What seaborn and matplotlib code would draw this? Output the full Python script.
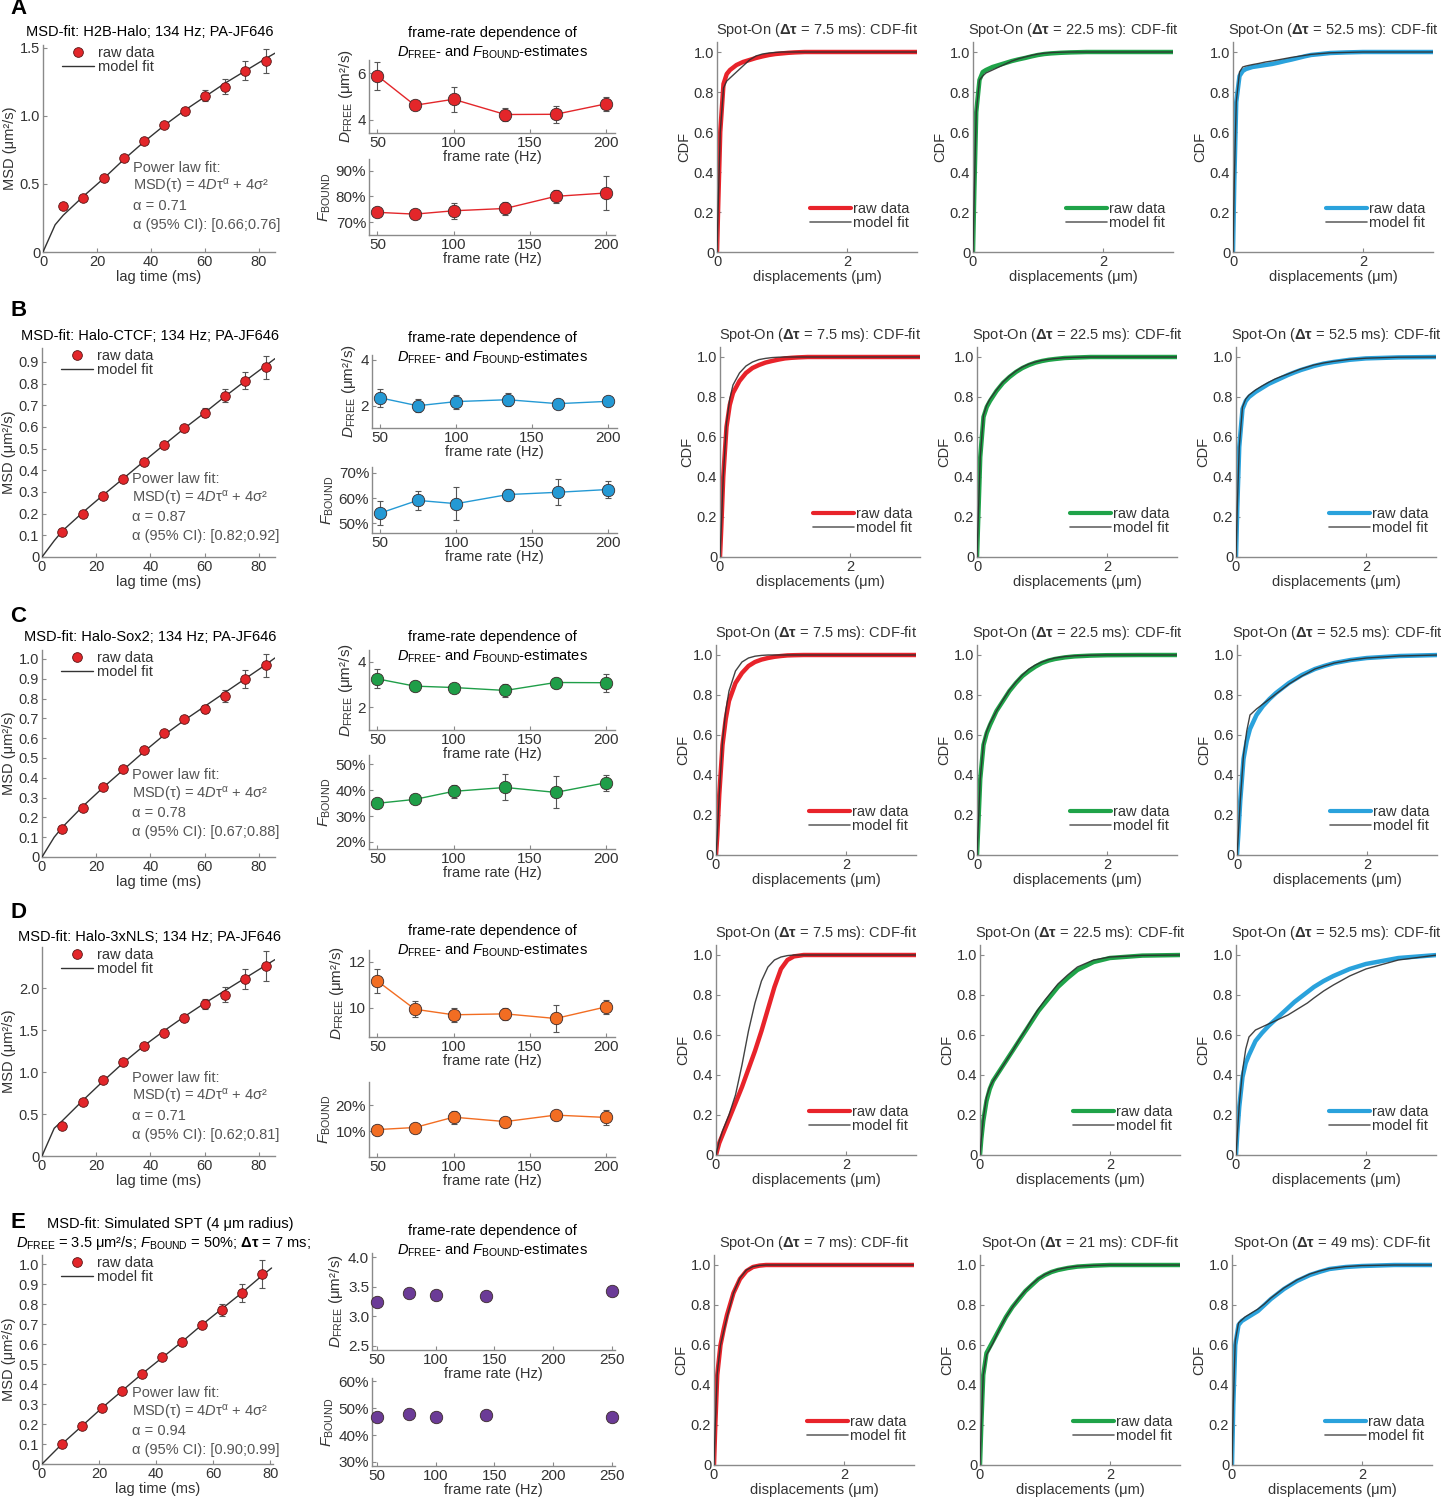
import numpy as np
import matplotlib
matplotlib.use('Agg')
import matplotlib.pyplot as plt
from matplotlib.lines import Line2D
import seaborn as sns

sns.set_style('ticks')
plt.rcParams['font.family'] = ['Liberation Sans', 'DejaVu Sans']
plt.rcParams['mathtext.fontset'] = 'custom'
plt.rcParams['mathtext.rm'] = 'Liberation Sans'
plt.rcParams['mathtext.it'] = 'Liberation Sans:italic'
plt.rcParams['mathtext.bf'] = 'Liberation Sans:bold'

# ---------------- MSD data ----------------
lag_abcd = [7.5, 15, 22.5, 30, 37.5, 45, 52.5, 60, 67.5, 75, 82.5]
lag_e = [7, 14, 21, 28, 35, 42, 49, 56, 63, 70, 77]

msd_A = [0.339, 0.397, 0.542, 0.687, 0.818, 0.929, 1.036, 1.147, 1.215, 1.331, 1.403]
msd_B = [0.115, 0.200, 0.283, 0.360, 0.438, 0.515, 0.595, 0.665, 0.743, 0.814, 0.875]
msd_C = [0.143, 0.246, 0.351, 0.443, 0.538, 0.626, 0.695, 0.747, 0.815, 0.899, 0.968]
msd_D = [0.358, 0.648, 0.903, 1.121, 1.308, 1.471, 1.642, 1.809, 1.920, 2.107, 2.266]
msd_E = [0.100, 0.190, 0.280, 0.365, 0.450, 0.535, 0.610, 0.695, 0.770, 0.855, 0.950]

msd_err_A = [0.01, 0.01, 0.01, 0.01, 0.01, 0.012, 0.02, 0.04, 0.055, 0.07, 0.087]
msd_err_B = [0.005, 0.005, 0.005, 0.005, 0.005, 0.006, 0.01, 0.02, 0.03, 0.04, 0.053]
msd_err_C = [0.005, 0.005, 0.005, 0.005, 0.005, 0.006, 0.01, 0.02, 0.03, 0.045, 0.058]
msd_err_D = [0.01, 0.01, 0.01, 0.01, 0.01, 0.015, 0.03, 0.06, 0.09, 0.12, 0.18]
msd_err_E = [0.005, 0.005, 0.005, 0.005, 0.005, 0.006, 0.01, 0.015, 0.03, 0.045, 0.07]

fit_tau_abcd = [0, 4.5, 7.5, 15, 22.5, 30, 37.5, 45, 52.5, 60, 67.5, 75, 82.5, 86]
fit_tau_e = [0, 7, 14, 21, 28, 35, 42, 49, 56, 63, 70, 77, 80.5]
fit_A = [0, 0.20, 0.27, 0.41, 0.54, 0.68, 0.81, 0.93, 1.04, 1.14, 1.24, 1.33, 1.42, 1.46]
fit_B = [0, 0.075, 0.12, 0.205, 0.285, 0.362, 0.44, 0.517, 0.593, 0.665, 0.74, 0.812, 0.882, 0.915]
fit_C = [0, 0.10, 0.15, 0.255, 0.35, 0.44, 0.53, 0.615, 0.69, 0.76, 0.83, 0.90, 0.97, 1.005]
fit_D = [0, 0.33, 0.42, 0.66, 0.89, 1.11, 1.31, 1.49, 1.66, 1.82, 1.97, 2.12, 2.27, 2.34]
fit_E = [0, 0.10, 0.19, 0.28, 0.365, 0.45, 0.53, 0.61, 0.695, 0.775, 0.855, 0.94, 0.98]

msd_titles = ['MSD-fit: H2B-Halo; 134 Hz; PA-JF646',
              'MSD-fit: Halo-CTCF; 134 Hz; PA-JF646',
              'MSD-fit: Halo-Sox2; 134 Hz; PA-JF646',
              'MSD-fit: Halo-3xNLS; 134 Hz; PA-JF646',
              'MSD-fit: Simulated SPT (4 \u03bcm radius)']
alpha_vals = ['0.71', '0.87', '0.78', '0.71', '0.94']
alpha_ci = ['[0.66;0.76]', '[0.82;0.92]', '[0.67;0.88]', '[0.62;0.81]', '[0.90;0.99]']

# ---------------- frame-rate dependence ----------------
fr_abcd = [50, 74.6, 100, 134, 167, 200]
fr_e = [50, 76.9, 100, 142.9, 250]

dfree_A = [5.90, 4.62, 4.88, 4.22, 4.23, 4.68]
dfree_B = [2.35, 2.01, 2.19, 2.27, 2.10, 2.20]
dfree_C = [3.24, 2.92, 2.86, 2.73, 3.08, 3.07]
dfree_D = [11.16, 9.94, 9.70, 9.74, 9.54, 10.04]
dfree_E = [3.25, 3.39, 3.36, 3.35, 3.42]
dfree_err_A = [0.6, 0.05, 0.55, 0.28, 0.36, 0.3]
dfree_err_B = [0.4, 0.27, 0.3, 0.27, 0.16, 0.05]
dfree_err_C = [0.42, 0.23, 0.05, 0.29, 0.22, 0.39]
dfree_err_D = [0.5, 0.34, 0.3, 0.27, 0.6, 0.3]

fbound_A = [73.8, 73.1, 74.4, 75.3, 80.0, 81.3]
fbound_B = [54.1, 59.1, 57.8, 61.4, 62.3, 63.4]
fbound_C = [34.9, 36.4, 39.5, 41.0, 39.1, 42.8]
fbound_D = [10.6, 11.4, 15.4, 13.7, 16.2, 15.3]
fbound_E = [46.9, 47.8, 46.9, 47.4, 46.9]
fbound_err_A = [1.5, 1.3, 3.0, 2.6, 2.5, 6.5]
fbound_err_B = [4.6, 3.8, 6.4, 2.3, 5.1, 3.3]
fbound_err_C = [1.8, 1.0, 2.5, 5.0, 6.2, 3.0]
fbound_err_D = [0.5, 0.5, 2.5, 0.8, 0.8, 3.0]

# ---------------- CDF curves (displacement grid + read-off values) ----------------
cdf_x = [0, 0.02, 0.05, 0.1, 0.15, 0.2, 0.3, 0.4, 0.5, 0.6, 0.7, 0.8, 0.9, 1.0,
         1.1, 1.2, 1.35, 1.5, 1.75, 2.0, 2.5, 3.1]

cdf_raw_A = [[0, 0.25, 0.6, 0.84, 0.89, 0.91, 0.935, 0.95, 0.96, 0.97, 0.978, 0.985, 0.99, 0.993, 0.996, 0.998, 1, 1, 1, 1, 1, 1],
             [0, 0.3, 0.7, 0.86, 0.9, 0.91, 0.925, 0.935, 0.945, 0.955, 0.963, 0.97, 0.978, 0.985, 0.99, 0.993, 0.996, 0.998, 1, 1, 1, 1],
             [0, 0.35, 0.75, 0.88, 0.905, 0.915, 0.925, 0.93, 0.935, 0.94, 0.947, 0.955, 0.962, 0.97, 0.978, 0.985, 0.99, 0.995, 0.998, 1, 1, 1]]
cdf_fit_A = [[0, 0.25, 0.6, 0.82, 0.855, 0.87, 0.9, 0.93, 0.96, 0.98, 0.99, 0.995, 0.998, 1, 1, 1, 1, 1, 1, 1, 1, 1],
             [0, 0.3, 0.7, 0.86, 0.88, 0.895, 0.91, 0.925, 0.94, 0.955, 0.966, 0.975, 0.983, 0.99, 0.994, 0.997, 0.999, 1, 1, 1, 1, 1],
             [0, 0.35, 0.75, 0.9, 0.925, 0.93, 0.937, 0.943, 0.95, 0.955, 0.961, 0.967, 0.973, 0.978, 0.983, 0.988, 0.992, 0.996, 0.998, 1, 1, 1]]
cdf_raw_B = [[0, 0.15, 0.4, 0.65, 0.76, 0.82, 0.88, 0.92, 0.945, 0.96, 0.972, 0.98, 0.987, 0.993, 0.996, 0.998, 1, 1, 1, 1, 1, 1],
             [0, 0.2, 0.5, 0.7, 0.75, 0.78, 0.83, 0.87, 0.9, 0.925, 0.945, 0.96, 0.972, 0.98, 0.986, 0.99, 0.995, 0.997, 1, 1, 1, 1],
             [0, 0.25, 0.55, 0.74, 0.78, 0.8, 0.825, 0.845, 0.865, 0.88, 0.895, 0.91, 0.923, 0.935, 0.945, 0.955, 0.967, 0.975, 0.986, 0.993, 0.998, 1]]
cdf_fit_B = [[0, 0.15, 0.4, 0.67, 0.79, 0.86, 0.92, 0.955, 0.975, 0.987, 0.993, 0.997, 0.999, 1, 1, 1, 1, 1, 1, 1, 1, 1],
             [0, 0.2, 0.5, 0.71, 0.76, 0.79, 0.835, 0.875, 0.905, 0.93, 0.95, 0.965, 0.975, 0.983, 0.988, 0.992, 0.996, 0.998, 1, 1, 1, 1],
             [0, 0.25, 0.55, 0.75, 0.79, 0.81, 0.835, 0.855, 0.873, 0.89, 0.903, 0.915, 0.928, 0.94, 0.95, 0.96, 0.97, 0.978, 0.988, 0.994, 0.999, 1]]
cdf_raw_C = [[0, 0.1, 0.3, 0.55, 0.68, 0.77, 0.86, 0.91, 0.945, 0.965, 0.977, 0.985, 0.991, 0.995, 0.998, 0.999, 1, 1, 1, 1, 1, 1],
             [0, 0.15, 0.38, 0.55, 0.61, 0.65, 0.72, 0.77, 0.82, 0.86, 0.895, 0.92, 0.942, 0.96, 0.972, 0.98, 0.988, 0.993, 0.997, 0.999, 1, 1],
             [0, 0.1, 0.27, 0.48, 0.57, 0.63, 0.7, 0.745, 0.78, 0.81, 0.835, 0.86, 0.88, 0.9, 0.915, 0.93, 0.946, 0.96, 0.975, 0.985, 0.995, 1]]
cdf_fit_C = [[0, 0.1, 0.3, 0.57, 0.72, 0.82, 0.92, 0.965, 0.985, 0.994, 0.998, 1, 1, 1, 1, 1, 1, 1, 1, 1, 1, 1],
             [0, 0.15, 0.38, 0.56, 0.62, 0.66, 0.72, 0.775, 0.825, 0.865, 0.9, 0.93, 0.95, 0.965, 0.976, 0.985, 0.992, 0.996, 0.999, 1, 1, 1],
             [0, 0.1, 0.27, 0.5, 0.62, 0.7, 0.73, 0.755, 0.78, 0.805, 0.83, 0.855, 0.875, 0.895, 0.912, 0.93, 0.946, 0.96, 0.975, 0.985, 0.995, 1]]
cdf_raw_D = [[0, 0.025, 0.06, 0.1, 0.14, 0.18, 0.26, 0.34, 0.43, 0.52, 0.62, 0.73, 0.84, 0.93, 0.975, 0.993, 1, 1, 1, 1, 1, 1],
             [0, 0.08, 0.17, 0.27, 0.33, 0.37, 0.42, 0.47, 0.52, 0.57, 0.62, 0.67, 0.72, 0.76, 0.8, 0.84, 0.885, 0.925, 0.965, 0.985, 0.997, 1],
             [0, 0.11, 0.24, 0.39, 0.46, 0.5, 0.57, 0.61, 0.645, 0.675, 0.705, 0.735, 0.765, 0.79, 0.815, 0.84, 0.87, 0.895, 0.93, 0.955, 0.985, 1]]
cdf_fit_D = [[0, 0.03, 0.07, 0.12, 0.16, 0.2, 0.3, 0.45, 0.62, 0.76, 0.87, 0.94, 0.975, 0.99, 0.997, 1, 1, 1, 1, 1, 1, 1],
             [0, 0.08, 0.18, 0.29, 0.34, 0.37, 0.42, 0.47, 0.52, 0.575, 0.625, 0.68, 0.73, 0.775, 0.815, 0.855, 0.9, 0.94, 0.975, 0.99, 0.998, 1],
             [0, 0.1, 0.25, 0.42, 0.53, 0.59, 0.625, 0.64, 0.655, 0.67, 0.685, 0.7, 0.72, 0.74, 0.76, 0.785, 0.82, 0.85, 0.895, 0.93, 0.975, 1]]
cdf_raw_E = [[0, 0.2, 0.45, 0.6, 0.68, 0.75, 0.86, 0.93, 0.97, 0.99, 0.997, 1, 1, 1, 1, 1, 1, 1, 1, 1, 1, 1],
             [0, 0.2, 0.45, 0.56, 0.59, 0.62, 0.68, 0.74, 0.79, 0.83, 0.87, 0.9, 0.93, 0.95, 0.965, 0.975, 0.985, 0.992, 0.997, 1, 1, 1],
             [0, 0.3, 0.6, 0.7, 0.72, 0.73, 0.75, 0.77, 0.8, 0.83, 0.855, 0.88, 0.9, 0.92, 0.935, 0.95, 0.966, 0.98, 0.99, 0.995, 1, 1]]
cdf_fit_E = [[0, 0.2, 0.46, 0.6, 0.67, 0.74, 0.86, 0.935, 0.975, 0.992, 0.998, 1, 1, 1, 1, 1, 1, 1, 1, 1, 1, 1],
             [0, 0.2, 0.45, 0.55, 0.58, 0.61, 0.68, 0.74, 0.79, 0.835, 0.872, 0.905, 0.932, 0.953, 0.967, 0.978, 0.988, 0.994, 0.998, 1, 1, 1],
             [0, 0.3, 0.62, 0.71, 0.725, 0.74, 0.76, 0.78, 0.805, 0.835, 0.86, 0.885, 0.905, 0.925, 0.94, 0.955, 0.97, 0.982, 0.992, 0.997, 1, 1]]

dtau_abcd = ['7.5', '22.5', '52.5']
dtau_e = ['7', '21', '49']

# ---------------- colours ----------------
msd_red = '#e3262a'
fr_colors = ['#e3262a', '#2499d4', '#1f9e48', '#f26d22', '#6b3b97']
cdf_colors = ['#e8232a', '#1fa349', '#2aa2dc']
spine_c = '#8a8a8a'
text_c = '#333333'

W, H = 1441, 1500
fig = plt.figure(figsize=(W / 100, H / 100), dpi=100)


def add_ax(l, t, r, b):
    ax = fig.add_axes([l / W, 1 - b / H, (r - l) / W, (b - t) / H])
    ax.patch.set_visible(False)
    return ax


def ftext(x, y, s, **kw):
    kw.setdefault('color', text_c)
    kw.setdefault('fontsize', 10.5)
    fig.text(x / W, 1 - y / H, s, **kw)


def style(ax, size=10.5):
    sns.despine(ax=ax)
    for sp in ['left', 'bottom']:
        ax.spines[sp].set_color(spine_c)
        ax.spines[sp].set_linewidth(1.0)
    ax.tick_params(direction='in', length=3, color=spine_c, labelcolor=text_c,
                   labelsize=size, pad=2)
    ax.xaxis.label.set_color(text_c)
    ax.yaxis.label.set_color(text_c)


def msd_panel(ax, lag, msd, err, tau, fit, xmax, ymax, yticks, ylabels):
    ax.errorbar(lag, msd, yerr=err, fmt='none', ecolor='#555555', elinewidth=0.8,
                capsize=2.2, capthick=0.8, zorder=2)
    sns.lineplot(x=tau, y=fit, ax=ax, color='#333333', lw=1.0, estimator=None,
                 sort=False, legend=False, zorder=3)
    sns.scatterplot(x=lag, y=msd, ax=ax, color=msd_red, edgecolor='#5a1515',
                    linewidth=0.6, s=48, legend=False, zorder=4, clip_on=False)
    ax.set_xlim(0, xmax)
    ax.set_ylim(0, ymax)
    ax.set_xticks([0, 20, 40, 60, 80])
    ax.set_yticks(yticks)
    ax.set_yticklabels(ylabels)
    ax.set_xlabel('lag time (ms)', fontsize=10.5, labelpad=1)
    ax.set_ylabel('MSD (\u03bcm\u00b2/s)', fontsize=10.5, labelpad=2)
    handles = [Line2D([], [], marker='o', ls='none', color=msd_red, mec='#5a1515',
                      mew=0.6, ms=7),
               Line2D([], [], color='#333333', lw=1.0)]
    leg = ax.legend(handles, ['raw data', 'model fit'], loc='upper left',
                    bbox_to_anchor=(0.05, 1.03), frameon=False, fontsize=10.5,
                    handlelength=2.2, handletextpad=0.3, labelspacing=0.0,
                    borderpad=0)
    for t in leg.get_texts():
        t.set_color(text_c)
    style(ax)


def fr_panel(ax, fr, vals, err, color, xlim, xticks, ylim, yticks, ylabels, ylabel):
    if err is not None:
        ax.errorbar(fr, vals, yerr=err, fmt='none', ecolor='#555555', elinewidth=0.8,
                    capsize=2.2, capthick=0.8, zorder=2)
        sns.lineplot(x=fr, y=vals, ax=ax, color=color, lw=1.0, estimator=None,
                     sort=False, legend=False, zorder=3)
    sns.scatterplot(x=fr, y=vals, ax=ax, color=color, edgecolor='#3a2a2a',
                    linewidth=0.6, s=80, legend=False, zorder=4, clip_on=False)
    ax.set_xlim(*xlim)
    ax.set_ylim(*ylim)
    ax.set_xticks(xticks)
    ax.set_yticks(yticks)
    ax.set_yticklabels(ylabels)
    ax.set_xlabel('frame rate (Hz)', fontsize=10.5, labelpad=0)
    ax.set_ylabel(ylabel, fontsize=11, labelpad=2)
    style(ax, 11)


def cdf_panel(ax, raw, fit, color, title):
    sns.lineplot(x=cdf_x, y=raw, ax=ax, color=color, lw=3.2, estimator=None,
                 sort=False, legend=False, zorder=2)
    sns.lineplot(x=cdf_x, y=fit, ax=ax, color='#2e2e2e', lw=1.0, alpha=0.9,
                 estimator=None, sort=False, legend=False, zorder=3)
    ax.set_xlim(0, 3.08)
    ax.set_ylim(0, 1.05)
    ax.set_xticks([0, 2])
    ax.set_yticks([0, 0.2, 0.4, 0.6, 0.8, 1.0])
    ax.set_yticklabels(['0', '0.2', '0.4', '0.6', '0.8', '1.0'])
    ax.set_xlabel('displacements (\u03bcm)', fontsize=10.5, labelpad=1)
    ax.set_ylabel('CDF', fontsize=10.5, labelpad=2)
    ax.set_title(title, fontsize=10.5, pad=6, color=text_c)
    handles = [Line2D([], [], color=color, lw=3.0),
               Line2D([], [], color='#666666', lw=1.2)]
    leg = ax.legend(handles, ['raw data', 'model fit'], loc='lower right',
                    bbox_to_anchor=(1.0, 0.07), frameon=False, fontsize=10.5,
                    handlelength=2.8, handletextpad=0.15, labelspacing=0.0,
                    borderpad=0)
    for t in leg.get_texts():
        t.set_color(text_c)
    style(ax)


# ---------------- layout per row ----------------
row_letters = ['A', 'B', 'C', 'D', 'E']
row_msd = [msd_A, msd_B, msd_C, msd_D, msd_E]
row_msd_err = [msd_err_A, msd_err_B, msd_err_C, msd_err_D, msd_err_E]
row_fit = [fit_A, fit_B, fit_C, fit_D, fit_E]
row_dfree = [dfree_A, dfree_B, dfree_C, dfree_D, dfree_E]
row_dfree_err = [dfree_err_A, dfree_err_B, dfree_err_C, dfree_err_D, None]
row_fbound = [fbound_A, fbound_B, fbound_C, fbound_D, fbound_E]
row_fbound_err = [fbound_err_A, fbound_err_B, fbound_err_C, fbound_err_D, None]
row_cdf_raw = [cdf_raw_A, cdf_raw_B, cdf_raw_C, cdf_raw_D, cdf_raw_E]
row_cdf_fit = [cdf_fit_A, cdf_fit_B, cdf_fit_C, cdf_fit_D, cdf_fit_E]

# pixel boxes
msd_box = [(43, 45, 275, 252), (42, 348, 275, 557), (42, 650, 275, 857),
           (42, 947, 275, 1156), (42, 1255, 273, 1464)]
msd_ymax = [1.52, 0.964, 1.045, 2.49, 1.045]
msd_yticks = [[0, 0.5, 1.0, 1.5], list(np.round(np.arange(0, 0.91, 0.1), 1)),
              list(np.round(np.arange(0, 1.01, 0.1), 1)), [0, 0.5, 1.0, 1.5, 2.0],
              list(np.round(np.arange(0, 1.01, 0.1), 1))]
msd_title_y = [32, 336, 637, 937, 1224]
letter_y = [9, 311, 616, 912, 1222]
powerlaw_y = [168, 479, 775, 1078, 1393]

fr_top_box = [(369, 60, 615, 133), (372, 355, 617, 428), (369, 650, 615, 730),
              (369, 950, 615, 1037), (372, 1253, 615, 1350)]
fr_bot_box = [(369, 159, 615, 235), (372, 467, 617, 533), (369, 755, 615, 849),
              (369, 1082, 615, 1157), (372, 1378, 615, 1466)]
fr_top_ylim = [(3.42, 6.58), (1.05, 4.2), (0.99, 4.51), (8.74, 12.5), (2.43, 4.07)]
fr_top_ticks = [[4, 6], [2, 4], [2, 4], [10, 12], [2.5, 3.0, 3.5, 4.0]]
fr_top_labels = [['4', '6'], ['2', '4'], ['2', '4'], ['10', '12'], ['2.5', '3.0', '3.5', '4.0']]
fr_bot_ylim = [(65, 94.5), (46.2, 72.3), (17.3, 53.5), (0, 29), (28.5, 61.3)]
fr_bot_ticks = [[70, 80, 90], [50, 60, 70], [20, 30, 40, 50], [10, 20], [30, 40, 50, 60]]
fr_title_y = [33, 338, 637, 931, 1231]

cdf_lefts = [(717, 973, 1233), (720, 977, 1236), (716, 977, 1237),
             (716, 980, 1236), (714, 980, 1232)]
cdf_bottom = [252, 557, 855, 1155, 1465]

dlabel = r'$\mathit{D}_{\mathrm{FREE}}$' + ' (\u03bcm\u00b2/s)'
flabel = r'$\mathit{F}_{\mathrm{BOUND}}$'
msd_formula = ('MSD(\u03c4) = 4' + r'$\mathit{D}$' + '\u03c4'
               + '$^{\\mathrm{\u03b1}}$' + ' + 4\u03c3\u00b2')

for i in range(5):
    is_e = (i == 4)
    lag = lag_e if is_e else lag_abcd
    tau = fit_tau_e if is_e else fit_tau_abcd
    xmax = 81 if is_e else 86

    ax = add_ax(*msd_box[i])
    ticks = msd_yticks[i]
    labels = ['0' if t == 0 else f'{t:.1f}' for t in ticks]
    msd_panel(ax, lag, row_msd[i], row_msd_err[i], tau, row_fit[i], xmax,
              msd_ymax[i], ticks, labels)

    # panel letter and title
    ftext(10, letter_y[i], row_letters[i], fontsize=16, fontweight='bold',
          color='black', va='center', ha='left')
    if is_e:
        ftext(170, msd_title_y[i], msd_titles[i], ha='center', va='center',
              color='black')
        ftext(163, msd_title_y[i] + 19,
              r'$\mathit{D}_{\mathrm{FREE}}$' + ' = 3.5 \u03bcm\u00b2/s; '
              + r'$\mathit{F}_{\mathrm{BOUND}}$ = 50%; $\mathbf{\Delta\tau}$ = 7 ms;',
              ha='center', va='center', color='black')
    else:
        ftext(150, msd_title_y[i], msd_titles[i], ha='center', va='center',
              color='black')

    # power-law annotation
    bx = msd_box[i][0] + 90
    by = powerlaw_y[i]
    lines = ['Power law fit:', msd_formula,
             '\u03b1 = ' + alpha_vals[i],
             '\u03b1 (95% CI): ' + alpha_ci[i]]
    for k, s in enumerate(lines):
        ftext(bx, by + 19 * k, s, ha='left', va='center', color='#555555')

    # frame-rate dependence
    fr = fr_e if is_e else fr_abcd
    xlim = (45.7, 252.6) if is_e else (44.5, 206)
    xticks = [50, 100, 150, 200, 250] if is_e else [50, 100, 150, 200]
    ax_t = add_ax(*fr_top_box[i])
    fr_panel(ax_t, fr, row_dfree[i], row_dfree_err[i], fr_colors[i], xlim, xticks,
             fr_top_ylim[i], fr_top_ticks[i], fr_top_labels[i], dlabel)
    ax_b = add_ax(*fr_bot_box[i])
    fr_panel(ax_b, fr, row_fbound[i], row_fbound_err[i], fr_colors[i], xlim, xticks,
             fr_bot_ylim[i], fr_bot_ticks[i], [f'{t}%' for t in fr_bot_ticks[i]], flabel)
    cx = 492
    ftext(cx, fr_title_y[i], 'frame-rate dependence of', ha='center', va='center',
          color='black')
    ftext(cx, fr_title_y[i] + 19,
          r'$\mathit{D}_{\mathrm{FREE}}$- and $\mathit{F}_{\mathrm{BOUND}}$-estimates',
          ha='center', va='center', color='black')

    # CDF panels
    dts = dtau_e if is_e else dtau_abcd
    for j in range(3):
        l = cdf_lefts[i][j]
        b = cdf_bottom[i]
        axc = add_ax(l, b - 210, l + 200, b)
        title = r'Spot-On ($\mathbf{\Delta\tau}$ = ' + dts[j] + ' ms): CDF-fit'
        cdf_panel(axc, row_cdf_raw[i][j], row_cdf_fit[i][j], cdf_colors[j], title)

fig.savefig('out.png', dpi=100)
